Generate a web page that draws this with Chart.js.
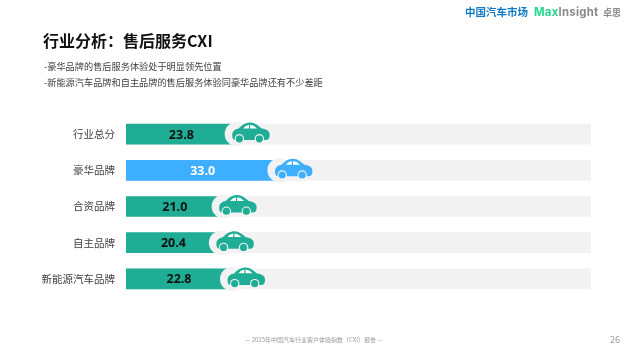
<!DOCTYPE html>
<html>
<head>
<meta charset="utf-8">
<script src="https://cdn.jsdelivr.net/npm/chart.js@4"></script>
<style>
    html, body { margin: 0; padding: 0; background: #fff; }
    body { width: 630px; height: 354px; position: relative; overflow: hidden; font-family: "Noto Sans CJK SC", sans-serif; }
    canvas { position: absolute; left: 0; top: 0; }
    .txt { position: absolute; white-space: nowrap; line-height: 1; }
</style>
</head>
<body>
<canvas id="cxiChart" width="630" height="354"></canvas>
<div class="txt" style="left:43px;top:32px;font-size:16px;font-weight:700;color:#111">行业分析&#xFF1A;售后服务CXI</div>
<div class="txt" style="left:44px;top:62px;font-size:9.2px;color:#404040">-豪华品牌的售后服务体验处于明显领先位置</div>
<div class="txt" style="left:44px;top:78px;font-size:9.2px;color:#404040">-新能源汽车品牌和自主品牌的售后服务体验同豪华品牌还有不少差距</div>
<div class="txt" style="left:465px;top:7px;font-size:10.5px;font-weight:700;color:#1279c4">中国汽车市场</div>
<div class="txt" style="left:534px;top:7px;font-size:11.3px;font-weight:700;letter-spacing:0.3px;color:#22d68f;font-family:Inter">Max<span style="color:#8a8a8a">Insight</span></div>
<div class="txt" style="left:603px;top:8px;font-size:9px;font-weight:700;color:#8a8a8a">卓思</div>
<div class="txt" style="left:245px;top:337px;font-size:6px;color:#9a9a9a">— 2025年中国汽车行业客户体验指数&#xFF08;CXI&#xFF09;报告 —</div>
<div class="txt" style="left:610px;top:335px;font-size:9px;color:#9a9a9a">26</div>
<script>
const categories = ["行业总分", "豪华品牌", "合资品牌", "自主品牌", "新能源汽车品牌"];
const scores = [23.8, 33.0, 21.0, 20.4, 22.8];
const trackValues = [100, 100, 100, 100, 100];
const barColors = ["#1fae95", "#3eaeff", "#1fae95", "#1fae95", "#1fae95"];
const labelColors = ["#111111", "#ffffff", "#111111", "#111111", "#111111"];

// car icon, drawn around the end of each bar
function drawCar(ctx, x, y, color) {
    ctx.save();
    ctx.translate(x, y);

    ctx.fillStyle = "#f2f2f2";
    ctx.beginPath();
    ctx.arc(0, 0, 12, 0, Math.PI * 2);
    ctx.fill();

    ctx.fillStyle = color;
    ctx.beginPath();
    ctx.moveTo(-2, 6);
    ctx.quadraticCurveTo(-4.5, 5.5, -4.5, 1);
    ctx.quadraticCurveTo(-4.5, -4.5, 2, -5.5);
    ctx.bezierCurveTo(6, -10, 10, -11.5, 14, -11.5);
    ctx.bezierCurveTo(18, -11.5, 22, -8, 25, -5.5);
    ctx.bezierCurveTo(30, -5, 33, -3, 33, 1);
    ctx.quadraticCurveTo(33, 6, 29, 6);
    ctx.closePath();
    ctx.fill();

    ctx.fillStyle = "#ffffff";
    ctx.beginPath();
    ctx.moveTo(6.5, -5.6);
    ctx.quadraticCurveTo(8.5, -8.5, 12.3, -9.3);
    ctx.lineTo(12.3, -5.6);
    ctx.closePath();
    ctx.moveTo(13.5, -9.3);
    ctx.quadraticCurveTo(17.5, -9, 20.5, -5.6);
    ctx.lineTo(13.5, -5.6);
    ctx.closePath();
    ctx.fill();

    [2.7, 22.7].forEach(function (wx) {
        ctx.fillStyle = "#f5f5f5";
        ctx.beginPath();
        ctx.arc(wx, 4.7, 4.7, 0, Math.PI * 2);
        ctx.fill();
        ctx.fillStyle = color;
        ctx.beginPath();
        ctx.arc(wx, 4.7, 3.6, 0, Math.PI * 2);
        ctx.fill();
    });
    ctx.restore();
}

const carPlugin = {
    id: "carPlugin",
    afterDatasetsDraw(chart) {
        const ctx = chart.ctx;
        const xScale = chart.scales.x;
        const yScale = chart.scales.y;
        scores.forEach(function (v, i) {
            const x = xScale.getPixelForValue(v);
            const y = yScale.getPixelForValue(i);
            drawCar(ctx, x, y, barColors[i]);

            ctx.fillStyle = labelColors[i];
            ctx.font = "700 12.5px 'Open Sans'";
            ctx.textAlign = "center";
            ctx.textBaseline = "middle";
            ctx.fillText(v.toFixed(1), (xScale.getPixelForValue(0) + x) / 2, y + 1);
        });
    }
};

new Chart(document.getElementById("cxiChart"), {
    type: "bar",
    data: {
        labels: categories,
        datasets: [
            {
                label: "CXI",
                data: scores,
                backgroundColor: barColors,
                barThickness: 20,
                grouped: false,
                order: 1
            },
            {
                label: "track",
                data: trackValues,
                backgroundColor: "#f2f2f2",
                barThickness: 20,
                grouped: false,
                order: 2
            }
        ]
    },
    options: {
        indexAxis: "y",
        responsive: false,
        animation: false,
        layout: { padding: { top: 116, bottom: 57, right: 39, left: 0 } },
        plugins: {
            legend: { display: false },
            tooltip: { enabled: false }
        },
        scales: {
            x: { display: false, min: 0, max: 100 },
            y: {
                grid: { display: false },
                border: { display: false },
                afterFit(axis) { axis.width = 126; },
                ticks: {
                    color: "#404040",
                    padding: 3,
                    font: { size: 10.5, family: "'Noto Sans CJK SC'" }
                }
            }
        }
    },
    plugins: [carPlugin]
});
</script>
</body>
</html>
